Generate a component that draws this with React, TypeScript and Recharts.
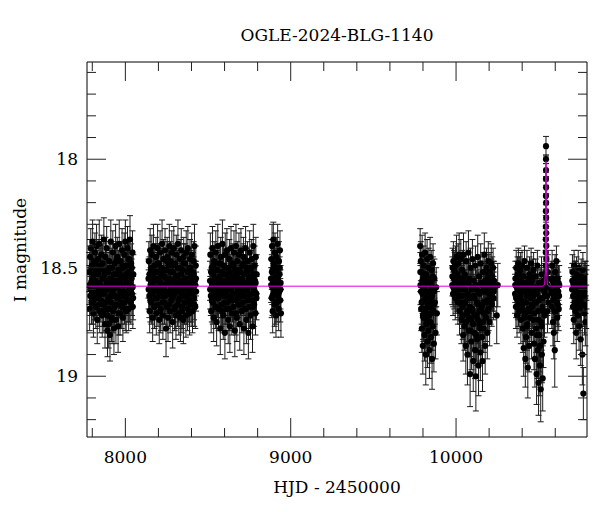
import { ComposedChart, Scatter, Line, XAxis, YAxis, ErrorBar } from 'recharts';

// [HJD - 2450000, I mag, error]
type Obs = [number, number, number];

const season2017: Obs[] = [
  [7782, 18.52, 0.09], [7784, 18.69, 0.1], [7786, 18.45, 0.08], [7789, 18.6, 0.09], [7791, 18.41, 0.09],
  [7793, 18.57, 0.08], [7795, 18.66, 0.1], [7798, 18.49, 0.09], [7800, 18.62, 0.09], [7802, 18.38, 0.1],
  [7805, 18.55, 0.08], [7807, 18.71, 0.11], [7809, 18.47, 0.09], [7812, 18.59, 0.09], [7814, 18.64, 0.1],
  [7816, 18.43, 0.09], [7819, 18.56, 0.08], [7821, 18.68, 0.1], [7823, 18.51, 0.09], [7826, 18.4, 0.1],
  [7828, 18.61, 0.09], [7830, 18.74, 0.11], [7833, 18.53, 0.08], [7835, 18.46, 0.09], [7838, 18.63, 0.09],
  [7840, 18.57, 0.08], [7842, 18.39, 0.11], [7845, 18.7, 0.1], [7847, 18.5, 0.09], [7850, 18.58, 0.08],
  [7852, 18.65, 0.1], [7855, 18.44, 0.09], [7857, 18.6, 0.09], [7860, 18.72, 0.1], [7862, 18.48, 0.09],
  [7865, 18.55, 0.08], [7867, 18.67, 0.1], [7870, 18.37, 0.1], [7872, 18.62, 0.09], [7875, 18.53, 0.09],
  [7877, 18.76, 0.11], [7880, 18.45, 0.09], [7882, 18.59, 0.08], [7885, 18.69, 0.1], [7887, 18.41, 0.1],
  [7890, 18.57, 0.09], [7892, 18.79, 0.12], [7895, 18.52, 0.09], [7897, 18.64, 0.09], [7899, 18.76, 0.11],
  [7902, 18.47, 0.09], [7904, 18.6, 0.08], [7907, 18.81, 0.12], [7909, 18.55, 0.09], [7912, 18.38, 0.1],
  [7914, 18.66, 0.1], [7917, 18.73, 0.11], [7919, 18.5, 0.09], [7921, 18.61, 0.09], [7924, 18.43, 0.1],
  [7926, 18.7, 0.1], [7929, 18.56, 0.08], [7931, 18.78, 0.12], [7934, 18.48, 0.09], [7936, 18.63, 0.09],
  [7938, 18.58, 0.08], [7941, 18.4, 0.1], [7943, 18.74, 0.11], [7946, 18.53, 0.09], [7948, 18.67, 0.1],
  [7951, 18.45, 0.09], [7953, 18.59, 0.09], [7956, 18.77, 0.12], [7958, 18.51, 0.09], [7960, 18.64, 0.09],
  [7963, 18.39, 0.11], [7965, 18.57, 0.08], [7968, 18.71, 0.1], [7970, 18.47, 0.09], [7973, 18.62, 0.09],
  [7975, 18.54, 0.08], [7978, 18.68, 0.1], [7980, 18.42, 0.1], [7983, 18.58, 0.09], [7985, 18.73, 0.11],
  [7988, 18.5, 0.09], [7990, 18.61, 0.09], [7993, 18.44, 0.1], [7995, 18.66, 0.1], [7998, 18.55, 0.08],
  [8000, 18.38, 0.1], [8003, 18.63, 0.09], [8005, 18.7, 0.1], [8008, 18.49, 0.09], [8010, 18.57, 0.08],
  [8013, 18.41, 0.1], [8015, 18.65, 0.1], [8018, 18.52, 0.09], [8020, 18.69, 0.1], [8023, 18.46, 0.09],
  [8025, 18.6, 0.09], [8028, 18.37, 0.11], [8030, 18.58, 0.08], [8033, 18.66, 0.1], [8035, 18.48, 0.09],
  [8038, 18.55, 0.09], [8040, 18.62, 0.1], [8043, 18.43, 0.1], [8045, 18.68, 0.1], [8048, 18.53, 0.09],
  [7783, 18.58, 0.09], [7788, 18.63, 0.09], [7794, 18.5, 0.08], [7799, 18.56, 0.08], [7804, 18.66, 0.1],
  [7810, 18.53, 0.08], [7815, 18.6, 0.09], [7820, 18.48, 0.09], [7825, 18.64, 0.09], [7831, 18.57, 0.08],
  [7836, 18.52, 0.08], [7841, 18.67, 0.1], [7846, 18.59, 0.09], [7851, 18.49, 0.09], [7856, 18.62, 0.09],
  [7861, 18.55, 0.08], [7866, 18.7, 0.1], [7871, 18.51, 0.08], [7876, 18.61, 0.09], [7881, 18.66, 0.1],
  [7886, 18.56, 0.08], [7891, 18.72, 0.1], [7896, 18.58, 0.09], [7901, 18.69, 0.1], [7906, 18.5, 0.08],
  [7911, 18.63, 0.09], [7916, 18.57, 0.08], [7920, 18.74, 0.11], [7925, 18.6, 0.09], [7930, 18.53, 0.08],
  [7935, 18.68, 0.1], [7940, 18.59, 0.09], [7945, 18.47, 0.09], [7950, 18.64, 0.09], [7955, 18.56, 0.08],
  [7959, 18.71, 0.1], [7964, 18.52, 0.08], [7969, 18.61, 0.09], [7974, 18.66, 0.1], [7979, 18.55, 0.08],
  [7984, 18.49, 0.09], [7989, 18.63, 0.09], [7994, 18.58, 0.08], [7999, 18.69, 0.1], [8004, 18.53, 0.08],
  [8009, 18.62, 0.09], [8014, 18.57, 0.08], [8019, 18.46, 0.09], [8024, 18.65, 0.1], [8029, 18.54, 0.08],
  [8034, 18.6, 0.09], [8039, 18.5, 0.08], [8044, 18.59, 0.09], [8047, 18.64, 0.1],
];

const season2018: Obs[] = [
  [8140, 18.55, 0.09], [8142, 18.47, 0.09], [8145, 18.63, 0.1], [8147, 18.7, 0.1], [8150, 18.42, 0.1],
  [8152, 18.58, 0.08], [8155, 18.51, 0.09], [8157, 18.66, 0.1], [8160, 18.44, 0.09], [8162, 18.61, 0.09],
  [8165, 18.73, 0.11], [8167, 18.53, 0.08], [8170, 18.4, 0.1], [8172, 18.59, 0.09], [8175, 18.68, 0.1],
  [8177, 18.49, 0.09], [8180, 18.56, 0.08], [8182, 18.64, 0.1], [8185, 18.45, 0.09], [8187, 18.71, 0.1],
  [8190, 18.52, 0.09], [8192, 18.6, 0.08], [8195, 18.41, 0.11], [8197, 18.67, 0.1], [8200, 18.55, 0.08],
  [8202, 18.48, 0.09], [8205, 18.74, 0.11], [8207, 18.62, 0.09], [8210, 18.43, 0.1], [8212, 18.57, 0.08],
  [8215, 18.69, 0.1], [8217, 18.5, 0.09], [8220, 18.63, 0.09], [8222, 18.39, 0.11], [8225, 18.58, 0.08],
  [8227, 18.72, 0.11], [8230, 18.46, 0.09], [8232, 18.6, 0.09], [8235, 18.54, 0.08], [8237, 18.66, 0.1],
  [8240, 18.42, 0.1], [8243, 18.61, 0.09], [8246, 18.78, 0.13], [8248, 18.51, 0.09], [8251, 18.68, 0.1],
  [8253, 18.45, 0.09], [8256, 18.57, 0.08], [8258, 18.73, 0.11], [8261, 18.49, 0.09], [8263, 18.62, 0.09],
  [8266, 18.4, 0.1], [8268, 18.55, 0.08], [8271, 18.7, 0.1], [8273, 18.47, 0.09], [8276, 18.59, 0.09],
  [8278, 18.65, 0.1], [8281, 18.43, 0.1], [8283, 18.56, 0.08], [8286, 18.75, 0.12], [8288, 18.52, 0.09],
  [8291, 18.63, 0.09], [8293, 18.41, 0.1], [8296, 18.6, 0.09], [8298, 18.69, 0.1], [8301, 18.48, 0.09],
  [8303, 18.57, 0.08], [8306, 18.72, 0.11], [8308, 18.44, 0.09], [8311, 18.61, 0.09], [8313, 18.54, 0.08],
  [8316, 18.67, 0.1], [8318, 18.39, 0.11], [8321, 18.58, 0.09], [8323, 18.71, 0.1], [8326, 18.5, 0.09],
  [8328, 18.64, 0.09], [8331, 18.46, 0.09], [8333, 18.73, 0.11], [8336, 18.56, 0.08], [8338, 18.42, 0.1],
  [8341, 18.62, 0.09], [8343, 18.68, 0.1], [8346, 18.51, 0.09], [8348, 18.59, 0.08], [8351, 18.74, 0.11],
  [8353, 18.45, 0.09], [8356, 18.6, 0.09], [8358, 18.66, 0.1], [8361, 18.48, 0.09], [8363, 18.55, 0.08],
  [8366, 18.72, 0.1], [8368, 18.43, 0.1], [8371, 18.63, 0.09], [8373, 18.57, 0.08], [8376, 18.69, 0.1],
  [8378, 18.41, 0.1], [8381, 18.58, 0.09], [8383, 18.65, 0.1], [8386, 18.5, 0.09], [8388, 18.71, 0.1],
  [8391, 18.46, 0.09], [8393, 18.6, 0.09], [8396, 18.54, 0.08], [8398, 18.67, 0.1], [8401, 18.44, 0.1],
  [8403, 18.62, 0.09], [8406, 18.7, 0.1], [8408, 18.52, 0.09], [8411, 18.58, 0.08], [8413, 18.47, 0.09],
  [8416, 18.64, 0.1], [8418, 18.4, 0.1], [8421, 18.56, 0.09], [8423, 18.68, 0.1], [8426, 18.49, 0.09],
  [8428, 18.61, 0.09],
  [8141, 18.6, 0.09], [8146, 18.53, 0.08], [8151, 18.65, 0.1], [8156, 18.57, 0.08], [8161, 18.5, 0.09],
  [8166, 18.62, 0.09], [8171, 18.55, 0.08], [8176, 18.68, 0.1], [8181, 18.52, 0.08], [8186, 18.59, 0.09],
  [8191, 18.64, 0.09], [8196, 18.48, 0.09], [8201, 18.61, 0.09], [8206, 18.56, 0.08], [8211, 18.7, 0.1],
  [8216, 18.53, 0.08], [8221, 18.6, 0.09], [8226, 18.66, 0.1], [8231, 18.51, 0.08], [8236, 18.58, 0.09],
  [8241, 18.63, 0.09], [8247, 18.55, 0.08], [8252, 18.47, 0.09], [8257, 18.62, 0.09], [8262, 18.57, 0.08],
  [8267, 18.67, 0.1], [8272, 18.52, 0.08], [8277, 18.6, 0.09], [8282, 18.64, 0.09], [8287, 18.49, 0.09],
  [8292, 18.56, 0.08], [8297, 18.62, 0.09], [8302, 18.68, 0.1], [8307, 18.54, 0.08], [8312, 18.59, 0.09],
  [8317, 18.5, 0.08], [8322, 18.65, 0.1], [8327, 18.57, 0.08], [8332, 18.61, 0.09], [8337, 18.53, 0.08],
  [8342, 18.7, 0.1], [8347, 18.58, 0.09], [8352, 18.48, 0.09], [8357, 18.63, 0.09], [8362, 18.55, 0.08],
  [8367, 18.6, 0.09], [8372, 18.66, 0.1], [8377, 18.52, 0.08], [8382, 18.58, 0.09], [8387, 18.62, 0.09],
  [8392, 18.5, 0.08], [8397, 18.65, 0.1], [8402, 18.56, 0.08], [8407, 18.61, 0.09], [8412, 18.53, 0.08],
  [8417, 18.67, 0.1], [8422, 18.58, 0.09], [8427, 18.55, 0.08],
];

const season2019: Obs[] = [
  [8512, 18.56, 0.09], [8514, 18.44, 0.1], [8517, 18.63, 0.09], [8519, 18.7, 0.1], [8522, 18.5, 0.09],
  [8524, 18.58, 0.08], [8527, 18.41, 0.1], [8529, 18.66, 0.1], [8532, 18.53, 0.08], [8534, 18.73, 0.11],
  [8537, 18.47, 0.09], [8539, 18.61, 0.09], [8542, 18.55, 0.08], [8544, 18.68, 0.1], [8547, 18.43, 0.1],
  [8549, 18.59, 0.09], [8552, 18.75, 0.11], [8554, 18.51, 0.09], [8557, 18.64, 0.09], [8559, 18.4, 0.1],
  [8562, 18.57, 0.08], [8564, 18.69, 0.1], [8567, 18.48, 0.09], [8569, 18.62, 0.09], [8572, 18.54, 0.08],
  [8574, 18.78, 0.12], [8577, 18.45, 0.09], [8579, 18.6, 0.09], [8582, 18.67, 0.1], [8584, 18.52, 0.08],
  [8587, 18.39, 0.11], [8589, 18.58, 0.08], [8592, 18.72, 0.11], [8594, 18.49, 0.09], [8597, 18.63, 0.09],
  [8599, 18.56, 0.08], [8602, 18.8, 0.12], [8604, 18.44, 0.1], [8607, 18.61, 0.09], [8609, 18.69, 0.1],
  [8612, 18.53, 0.08], [8614, 18.42, 0.1], [8617, 18.66, 0.1], [8619, 18.57, 0.08], [8622, 18.74, 0.11],
  [8624, 18.5, 0.09], [8627, 18.6, 0.09], [8629, 18.46, 0.09], [8632, 18.77, 0.12], [8634, 18.55, 0.08],
  [8637, 18.64, 0.09], [8639, 18.41, 0.1], [8642, 18.59, 0.09], [8644, 18.71, 0.1], [8647, 18.48, 0.09],
  [8649, 18.62, 0.09], [8652, 18.54, 0.08], [8654, 18.68, 0.1], [8657, 18.43, 0.1], [8659, 18.58, 0.08],
  [8662, 18.79, 0.12], [8664, 18.51, 0.09], [8667, 18.65, 0.09], [8669, 18.4, 0.1], [8672, 18.57, 0.08],
  [8674, 18.73, 0.11], [8677, 18.47, 0.09], [8679, 18.61, 0.09], [8682, 18.55, 0.08], [8684, 18.67, 0.1],
  [8687, 18.44, 0.1], [8689, 18.6, 0.09], [8692, 18.76, 0.12], [8694, 18.52, 0.08], [8697, 18.63, 0.09],
  [8699, 18.42, 0.1], [8702, 18.58, 0.08], [8704, 18.7, 0.1], [8707, 18.49, 0.09], [8709, 18.56, 0.08],
  [8712, 18.66, 0.1], [8714, 18.45, 0.09], [8717, 18.78, 0.12], [8719, 18.61, 0.09], [8722, 18.53, 0.08],
  [8724, 18.69, 0.1], [8727, 18.41, 0.1], [8729, 18.59, 0.09], [8732, 18.74, 0.11], [8734, 18.5, 0.09],
  [8737, 18.64, 0.09], [8739, 18.47, 0.09], [8742, 18.57, 0.08], [8744, 18.8, 0.12], [8747, 18.55, 0.09],
  [8749, 18.68, 0.1], [8752, 18.43, 0.1], [8754, 18.62, 0.09], [8757, 18.72, 0.11], [8759, 18.51, 0.09],
  [8762, 18.58, 0.08], [8764, 18.46, 0.09], [8767, 18.65, 0.1], [8769, 18.77, 0.12], [8772, 18.54, 0.08],
  [8774, 18.4, 0.1], [8777, 18.6, 0.09], [8779, 18.67, 0.1], [8782, 18.49, 0.09], [8784, 18.56, 0.08],
  [8787, 18.71, 0.1], [8789, 18.45, 0.09], [8792, 18.62, 0.09], [8794, 18.53, 0.09],
  [8513, 18.6, 0.09], [8518, 18.52, 0.08], [8523, 18.65, 0.1], [8528, 18.57, 0.08], [8533, 18.49, 0.09],
  [8538, 18.63, 0.09], [8543, 18.55, 0.08], [8548, 18.68, 0.1], [8553, 18.51, 0.08], [8558, 18.6, 0.09],
  [8563, 18.64, 0.09], [8568, 18.56, 0.08], [8573, 18.48, 0.09], [8578, 18.62, 0.09], [8583, 18.58, 0.08],
  [8588, 18.7, 0.1], [8593, 18.53, 0.08], [8598, 18.61, 0.09], [8603, 18.66, 0.1], [8608, 18.5, 0.08],
  [8613, 18.59, 0.09], [8618, 18.63, 0.09], [8623, 18.55, 0.08], [8628, 18.69, 0.1], [8633, 18.52, 0.08],
  [8638, 18.6, 0.09], [8643, 18.57, 0.08], [8648, 18.65, 0.1], [8653, 18.49, 0.09], [8658, 18.62, 0.09],
  [8663, 18.56, 0.08], [8668, 18.71, 0.1], [8673, 18.53, 0.08], [8678, 18.59, 0.09], [8683, 18.64, 0.09],
  [8688, 18.51, 0.08], [8693, 18.58, 0.09], [8698, 18.67, 0.1], [8703, 18.55, 0.08], [8708, 18.61, 0.09],
  [8713, 18.48, 0.09], [8718, 18.63, 0.09], [8723, 18.57, 0.08], [8728, 18.69, 0.1], [8733, 18.52, 0.08],
  [8738, 18.6, 0.09], [8743, 18.65, 0.1], [8748, 18.54, 0.08], [8753, 18.58, 0.09], [8758, 18.5, 0.08],
  [8763, 18.62, 0.09], [8768, 18.56, 0.08], [8773, 18.68, 0.1], [8778, 18.53, 0.08], [8783, 18.61, 0.09],
  [8788, 18.57, 0.08], [8793, 18.64, 0.1],
];

const season2020: Obs[] = [
  [8881, 18.55, 0.09], [8883, 18.46, 0.09], [8885, 18.64, 0.09], [8887, 18.4, 0.1], [8889, 18.59, 0.08],
  [8891, 18.7, 0.1], [8893, 18.51, 0.09], [8895, 18.37, 0.08], [8897, 18.62, 0.09], [8899, 18.57, 0.08],
  [8901, 18.48, 0.09], [8903, 18.67, 0.1], [8905, 18.43, 0.09], [8907, 18.6, 0.09], [8909, 18.54, 0.08],
  [8911, 18.72, 0.1], [8913, 18.45, 0.09], [8915, 18.58, 0.08], [8917, 18.66, 0.09], [8919, 18.5, 0.09],
  [8921, 18.39, 0.09], [8923, 18.63, 0.09], [8925, 18.56, 0.08], [8927, 18.69, 0.1], [8929, 18.47, 0.09],
  [8931, 18.61, 0.09], [8933, 18.53, 0.08], [8935, 18.42, 0.09], [8937, 18.65, 0.1], [8939, 18.57, 0.08],
  [8941, 18.71, 0.11],
  [8882, 18.58, 0.08], [8886, 18.52, 0.08], [8890, 18.63, 0.09], [8894, 18.56, 0.08], [8898, 18.49, 0.09],
  [8902, 18.61, 0.09], [8906, 18.55, 0.08], [8910, 18.66, 0.1], [8914, 18.51, 0.08], [8918, 18.59, 0.09],
  [8922, 18.54, 0.08], [8926, 18.62, 0.09], [8930, 18.57, 0.08], [8934, 18.5, 0.08], [8938, 18.6, 0.09],
];

const season2022: Obs[] = [
  [9783, 18.4, 0.08], [9785, 18.58, 0.09], [9787, 18.47, 0.09], [9789, 18.69, 0.1], [9791, 18.52, 0.09],
  [9793, 18.78, 0.11], [9795, 18.44, 0.09], [9797, 18.62, 0.09], [9799, 18.86, 0.13], [9801, 18.55, 0.09],
  [9803, 18.73, 0.11], [9805, 18.49, 0.09], [9807, 18.65, 0.1], [9809, 18.81, 0.12], [9811, 18.58, 0.09],
  [9813, 18.43, 0.09], [9815, 18.7, 0.1], [9817, 18.9, 0.14], [9819, 18.53, 0.09], [9821, 18.76, 0.11],
  [9823, 18.61, 0.09], [9825, 18.46, 0.09], [9827, 18.84, 0.12], [9829, 18.67, 0.1], [9831, 18.56, 0.09],
  [9833, 18.79, 0.12], [9835, 18.5, 0.09], [9837, 18.72, 0.1], [9839, 18.88, 0.13], [9841, 18.63, 0.09],
  [9843, 18.45, 0.09], [9845, 18.75, 0.11], [9847, 18.57, 0.09], [9849, 18.82, 0.12], [9851, 18.68, 0.1],
  [9853, 18.51, 0.09], [9855, 18.92, 0.14], [9857, 18.6, 0.09], [9859, 18.77, 0.11], [9861, 18.48, 0.09],
  [9863, 18.7, 0.1], [9866, 18.85, 0.13], [9869, 18.55, 0.09], [9872, 18.66, 0.1], [9876, 18.8, 0.12],
  [9880, 18.59, 0.09], [9884, 18.71, 0.1],
  [9784, 18.52, 0.09], [9788, 18.61, 0.09], [9792, 18.66, 0.1], [9796, 18.56, 0.09], [9800, 18.72, 0.11],
  [9804, 18.6, 0.09], [9808, 18.53, 0.09], [9812, 18.69, 0.1], [9816, 18.58, 0.09], [9820, 18.64, 0.1],
  [9824, 18.74, 0.11], [9828, 18.55, 0.09], [9832, 18.62, 0.09], [9836, 18.68, 0.1], [9840, 18.57, 0.09],
  [9844, 18.65, 0.1], [9848, 18.71, 0.1], [9852, 18.59, 0.09], [9856, 18.63, 0.09], [9860, 18.54, 0.09],
  [9864, 18.67, 0.1], [9868, 18.61, 0.09],
];

const season2023: Obs[] = [
  [9977, 18.58, 0.09], [9979, 18.5, 0.09], [9982, 18.62, 0.1], [9984, 18.47, 0.09], [9987, 18.55, 0.08],
  [9989, 18.6, 0.09], [9992, 18.52, 0.09], [9995, 18.64, 0.1], [9997, 18.49, 0.09], [10000, 18.57, 0.08],
  [10003, 18.45, 0.1], [10005, 18.61, 0.09], [10008, 18.53, 0.09], [10011, 18.66, 0.1], [10013, 18.48, 0.09],
  [10016, 18.59, 0.09], [10019, 18.44, 0.1], [10021, 18.7, 0.11], [10024, 18.55, 0.09], [10027, 18.63, 0.09],
  [10029, 18.46, 0.09], [10032, 18.74, 0.11], [10035, 18.58, 0.09], [10037, 18.51, 0.09], [10040, 18.68, 0.1],
  [10043, 18.81, 0.12], [10045, 18.44, 0.1], [10048, 18.6, 0.09], [10051, 18.77, 0.11], [10053, 18.53, 0.09],
  [10056, 18.66, 0.1], [10059, 18.86, 0.13], [10061, 18.47, 0.09], [10064, 18.71, 0.1], [10067, 18.57, 0.09],
  [10069, 18.9, 0.14], [10072, 18.62, 0.09], [10075, 18.43, 0.1], [10077, 18.79, 0.12], [10080, 18.55, 0.09],
  [10083, 18.68, 0.1], [10085, 18.99, 0.15], [10088, 18.5, 0.09], [10091, 18.74, 0.11], [10093, 18.84, 0.13],
  [10096, 18.59, 0.09], [10099, 18.46, 0.09], [10101, 18.7, 0.1], [10104, 18.93, 0.14], [10107, 18.56, 0.09],
  [10109, 18.8, 0.12], [10112, 18.64, 0.1], [10115, 18.88, 0.13], [10117, 18.49, 0.09], [10120, 19.0, 0.16],
  [10123, 18.72, 0.11], [10125, 18.6, 0.09], [10128, 18.83, 0.12], [10131, 18.45, 0.1], [10133, 18.67, 0.1],
  [10136, 18.95, 0.14], [10139, 18.54, 0.09], [10141, 18.76, 0.11], [10144, 18.62, 0.09], [10147, 18.89, 0.13],
  [10149, 18.48, 0.09], [10152, 18.7, 0.1], [10155, 18.58, 0.09], [10157, 18.82, 0.12], [10160, 18.93, 0.14],
  [10163, 18.52, 0.09], [10165, 18.66, 0.1], [10168, 18.78, 0.11], [10171, 18.44, 0.1], [10173, 18.61, 0.09],
  [10176, 18.86, 0.13], [10179, 18.57, 0.09], [10181, 18.73, 0.11], [10184, 18.5, 0.09], [10187, 18.65, 0.1],
  [10189, 18.8, 0.12], [10192, 18.55, 0.09], [10195, 18.47, 0.09], [10197, 18.69, 0.1], [10200, 18.6, 0.09],
  [10203, 18.75, 0.11], [10205, 18.52, 0.09], [10208, 18.63, 0.1], [10211, 18.57, 0.09], [10213, 18.48, 0.09],
  [10216, 18.67, 0.1], [10219, 18.54, 0.09], [10221, 18.61, 0.09], [10224, 18.5, 0.09], [10227, 18.64, 0.1],
  [10230, 18.56, 0.09], [10233, 18.59, 0.09], [10246, 18.72, 0.13], [10252, 18.58, 0.1],
  [9978, 18.54, 0.09], [9983, 18.59, 0.09], [9988, 18.51, 0.09], [9993, 18.57, 0.09], [9998, 18.62, 0.09],
  [10002, 18.53, 0.09], [10007, 18.58, 0.09], [10012, 18.63, 0.1], [10017, 18.55, 0.09], [10022, 18.6, 0.09],
  [10026, 18.66, 0.1], [10031, 18.57, 0.09], [10036, 18.63, 0.09], [10041, 18.72, 0.11], [10046, 18.55, 0.09],
  [10050, 18.66, 0.1], [10055, 18.6, 0.09], [10060, 18.75, 0.11], [10065, 18.63, 0.09], [10070, 18.7, 0.1],
  [10074, 18.57, 0.09], [10079, 18.73, 0.11], [10084, 18.64, 0.1], [10089, 18.79, 0.12], [10094, 18.6, 0.09],
  [10098, 18.69, 0.1], [10103, 18.76, 0.11], [10108, 18.63, 0.1], [10113, 18.72, 0.11], [10118, 18.58, 0.09],
  [10122, 18.81, 0.12], [10127, 18.66, 0.1], [10132, 18.74, 0.11], [10137, 18.61, 0.09], [10142, 18.7, 0.1],
  [10146, 18.78, 0.12], [10151, 18.57, 0.09], [10156, 18.68, 0.1], [10161, 18.75, 0.11], [10166, 18.6, 0.09],
  [10170, 18.71, 0.1], [10175, 18.56, 0.09], [10180, 18.66, 0.1], [10185, 18.59, 0.09], [10190, 18.7, 0.1],
  [10194, 18.53, 0.09], [10199, 18.62, 0.09], [10204, 18.57, 0.09], [10209, 18.66, 0.1], [10214, 18.55, 0.09],
  [10218, 18.6, 0.09], [10223, 18.56, 0.09], [10228, 18.61, 0.09],
];

const season2024: Obs[] = [
  [10357, 18.62, 0.09], [10359, 18.55, 0.08], [10362, 18.68, 0.1], [10364, 18.5, 0.08], [10367, 18.59, 0.09],
  [10369, 18.72, 0.1], [10372, 18.53, 0.08], [10374, 18.65, 0.09], [10377, 18.48, 0.07], [10379, 18.6, 0.09],
  [10382, 18.7, 0.1], [10384, 18.56, 0.08], [10387, 18.63, 0.09], [10389, 18.51, 0.08], [10392, 18.74, 0.11],
  [10394, 18.58, 0.08], [10397, 18.67, 0.1], [10399, 18.49, 0.07], [10402, 18.61, 0.09], [10404, 18.78, 0.11],
  [10407, 18.54, 0.08], [10409, 18.87, 0.13], [10412, 18.66, 0.1], [10414, 18.47, 0.07], [10417, 18.71, 0.1],
  [10419, 18.92, 0.13], [10422, 18.57, 0.08], [10424, 18.82, 0.12], [10427, 18.63, 0.09], [10429, 18.5, 0.08],
  [10432, 18.76, 0.11], [10434, 18.96, 0.14], [10437, 18.6, 0.09], [10439, 18.69, 0.1], [10442, 18.86, 0.12],
  [10444, 18.53, 0.08], [10447, 18.73, 0.11], [10449, 18.58, 0.08], [10452, 18.64, 0.09], [10454, 18.48, 0.07],
  [10457, 18.8, 0.12], [10459, 18.56, 0.08], [10462, 18.68, 0.1], [10464, 18.61, 0.09], [10467, 18.74, 0.11],
  [10469, 18.51, 0.08], [10472, 18.85, 0.12], [10474, 18.59, 0.09], [10477, 18.92, 0.13], [10479, 18.66, 0.1],
  [10482, 18.54, 0.08], [10484, 18.78, 0.11], [10487, 18.99, 0.14], [10489, 18.62, 0.09], [10492, 18.49, 0.07],
  [10494, 18.88, 0.13], [10497, 18.7, 0.1], [10499, 19.03, 0.15], [10502, 18.57, 0.08], [10504, 18.81, 0.12],
  [10507, 18.95, 0.14], [10509, 18.64, 0.09], [10512, 19.06, 0.15], [10514, 18.75, 0.11], [10517, 18.53, 0.08],
  [10519, 18.9, 0.13], [10522, 18.68, 0.1], [10524, 19.01, 0.15], [10527, 18.6, 0.09], [10529, 18.84, 0.12],
  [10532, 18.56, 0.08], [10535, 18.72, 0.1], [10538, 18.63, 0.09], [10551, 18.58, 0.09], [10553, 18.7, 0.1],
  [10556, 18.52, 0.08], [10558, 18.66, 0.1], [10576, 18.55, 0.08], [10579, 18.68, 0.1], [10581, 18.49, 0.07],
  [10584, 18.62, 0.09], [10586, 18.75, 0.11], [10589, 18.57, 0.08], [10591, 18.8, 0.12], [10594, 18.64, 0.09],
  [10597, 18.88, 0.17], [10599, 18.52, 0.08], [10602, 18.7, 0.1], [10604, 18.59, 0.09], [10607, 18.47, 0.07],
  [10610, 18.66, 0.1], [10612, 18.73, 0.11], [10615, 18.55, 0.08], [10618, 18.61, 0.09], [10621, 18.69, 0.1],
  [10624, 18.58, 0.09],
  [10358, 18.58, 0.08], [10363, 18.64, 0.09], [10368, 18.55, 0.08], [10373, 18.61, 0.09], [10378, 18.67, 0.1],
  [10383, 18.53, 0.08], [10388, 18.59, 0.09], [10393, 18.65, 0.09], [10398, 18.56, 0.08], [10403, 18.69, 0.1],
  [10408, 18.6, 0.09], [10413, 18.73, 0.11], [10418, 18.58, 0.08], [10423, 18.66, 0.1], [10428, 18.77, 0.11],
  [10433, 18.62, 0.09], [10438, 18.55, 0.08], [10443, 18.7, 0.1], [10448, 18.63, 0.09], [10453, 18.57, 0.08],
  [10458, 18.67, 0.1], [10463, 18.54, 0.08], [10468, 18.63, 0.09], [10473, 18.71, 0.1], [10478, 18.59, 0.09],
  [10483, 18.66, 0.1], [10488, 18.81, 0.12], [10493, 18.6, 0.09], [10498, 18.74, 0.11], [10503, 18.65, 0.1],
  [10508, 18.86, 0.12], [10513, 18.58, 0.08], [10518, 18.77, 0.11], [10523, 18.64, 0.09], [10528, 18.7, 0.1],
  [10533, 18.61, 0.09], [10537, 18.57, 0.08], [10552, 18.63, 0.09], [10557, 18.59, 0.09], [10577, 18.61, 0.09],
  [10582, 18.56, 0.08], [10587, 18.65, 0.1], [10592, 18.58, 0.08], [10596, 18.7, 0.1], [10601, 18.62, 0.09],
  [10606, 18.55, 0.08], [10611, 18.6, 0.09], [10616, 18.67, 0.1], [10620, 18.57, 0.08], [10623, 18.63, 0.09],
];

// the event itself
const peak2024: Obs[] = [
  [10544, 17.94, 0.045], [10544, 18.0, 0.02], [10544.3, 18.05, 0.03], [10543.8, 18.09, 0.03],
  [10544.5, 18.13, 0.03], [10543.6, 18.17, 0.04], [10544.8, 18.2, 0.04], [10543.4, 18.24, 0.04],
  [10545, 18.27, 0.04], [10543.2, 18.31, 0.05], [10545.3, 18.34, 0.05], [10543, 18.37, 0.05],
  [10545.6, 18.4, 0.06], [10542.7, 18.43, 0.06], [10546, 18.46, 0.06], [10542.4, 18.49, 0.07],
  [10546.4, 18.52, 0.07], [10542, 18.55, 0.08],
];

const season2025: Obs[] = [
  [10702, 18.6, 0.09], [10704, 18.52, 0.08], [10707, 18.68, 0.1], [10709, 18.57, 0.09], [10712, 18.74, 0.11],
  [10714, 18.49, 0.07], [10717, 18.63, 0.09], [10719, 18.55, 0.08], [10722, 18.7, 0.1], [10724, 18.6, 0.09],
  [10727, 18.8, 0.12], [10729, 18.53, 0.08], [10732, 18.66, 0.1], [10734, 18.58, 0.09], [10737, 18.72, 0.11],
  [10739, 18.5, 0.08], [10742, 18.64, 0.09], [10744, 18.77, 0.11], [10747, 18.56, 0.08], [10749, 18.69, 0.1],
  [10752, 18.61, 0.09], [10754, 18.83, 0.12], [10757, 18.54, 0.08], [10759, 18.67, 0.1], [10762, 18.59, 0.09],
  [10764, 18.9, 0.14], [10767, 18.51, 0.08], [10770, 19.08, 0.12], [10772, 18.63, 0.09], [10774, 18.57, 0.09],
  [10777, 18.71, 0.1], [10779, 18.62, 0.09], [10782, 18.75, 0.11], [10784, 18.55, 0.08], [10787, 18.68, 0.1],
  [10789, 18.6, 0.09],
  [10703, 18.56, 0.08], [10708, 18.63, 0.09], [10713, 18.58, 0.08], [10718, 18.66, 0.1], [10723, 18.55, 0.08],
  [10728, 18.62, 0.09], [10733, 18.59, 0.09], [10738, 18.68, 0.1], [10743, 18.57, 0.08], [10748, 18.61, 0.09],
  [10753, 18.65, 0.1], [10758, 18.56, 0.08], [10763, 18.63, 0.09], [10768, 18.58, 0.08], [10773, 18.67, 0.1],
  [10778, 18.55, 0.08], [10783, 18.62, 0.09], [10788, 18.57, 0.08],
];

// point-lens model, magenta
const modelDays = [7768, 10528, 10536, 10540, 10542, 10543.2, 10544, 10544.8, 10546, 10548, 10552, 10560, 10792];
const modelMags = [18.585, 18.585, 18.575, 18.52, 18.35, 18.12, 18.01, 18.12, 18.35, 18.52, 18.575, 18.585, 18.585];

const xMajorTicks = [8000, 9000, 10000];
const xMinorTicks = [7800, 8200, 8400, 8600, 8800, 9200, 9400, 9600, 9800, 10200, 10400, 10600];
const yMajorTicks = [18, 18.5, 19];
const yMinorTicks = [17.6, 17.7, 17.8, 17.9, 18.1, 18.2, 18.3, 18.4, 18.6, 18.7, 18.8, 18.9, 19.1, 19.2];

const points = [
  ...season2017, ...season2018, ...season2019, ...season2020,
  ...season2022, ...season2023, ...season2024, ...season2025, ...peak2024,
].map(([x, y, err]) => ({ x, y, err }));
const model = modelDays.map((x, i) => ({ x, y: modelMags[i] }));
const xTicks = [...xMajorTicks, ...xMinorTicks].sort((a, b) => a - b);
const yTicks = [...yMajorTicks, ...yMinorTicks].sort((a, b) => a - b);

const X_DOMAIN: [number, number] = [7768, 10792];
const Y_DOMAIN: [number, number] = [17.552, 19.28];
const FONT = 'DejaVu Serif';
const TICK = '#222';
const MAJOR = 19;
const MINOR = 9;
const frame = { stroke: '#000', strokeWidth: 1 };

// ticks point inwards; major ones are longer and only bottom/left carry labels
const BottomTick = ({ x, y, payload }: any) => {
  const major = xMajorTicks.includes(payload.value);
  return (
    <g>
      <line x1={x} y1={y} x2={x} y2={y - (major ? MAJOR : MINOR)} stroke={TICK} />
      {major && (
        <text x={x} y={y + 26} textAnchor="middle" fontFamily={FONT} fontSize={17} fill="#000">
          {payload.value}
        </text>
      )}
    </g>
  );
};
const TopTick = ({ x, y, payload }: any) => {
  const len = xMajorTicks.includes(payload.value) ? MAJOR : MINOR;
  return <line x1={x} y1={y} x2={x} y2={y + len} stroke={TICK} />;
};
const LeftTick = ({ x, y, payload }: any) => {
  const major = yMajorTicks.includes(payload.value);
  return (
    <g>
      <line x1={x} y1={y} x2={x + (major ? MAJOR : MINOR)} y2={y} stroke={TICK} />
      {major && (
        <text x={x - 9} y={y + 6} textAnchor="end" fontFamily={FONT} fontSize={17} fill="#000">
          {payload.value}
        </text>
      )}
    </g>
  );
};
const RightTick = ({ x, y, payload }: any) => {
  const len = yMajorTicks.includes(payload.value) ? MAJOR : MINOR;
  return <line x1={x} y1={y} x2={x - len} y2={y} stroke={TICK} />;
};

const Dot = (p: any) => <circle cx={p.cx} cy={p.cy} r={3.1} fill="#000" />;

export default function App() {
  return (
    <div style={{ position: 'absolute', left: 0, top: 0, width: 600, height: 512, background: '#fff' }}>
      <ComposedChart width={600} height={512} margin={{ top: 0, right: 0, bottom: 0, left: 0 }}>
        <XAxis xAxisId="b" type="number" dataKey="x" domain={X_DOMAIN} allowDataOverflow ticks={xTicks}
          interval={0} height={75} tickSize={0} tickMargin={0} tick={BottomTick} tickLine={false} axisLine={frame} />
        <XAxis xAxisId="t" orientation="top" type="number" dataKey="x" domain={X_DOMAIN} allowDataOverflow ticks={xTicks}
          interval={0} height={62} tickSize={0} tickMargin={0} tick={TopTick} tickLine={false} axisLine={frame} />
        <YAxis yAxisId="l" type="number" dataKey="y" domain={Y_DOMAIN} reversed allowDataOverflow ticks={yTicks}
          interval={0} width={87} tickSize={0} tickMargin={0} tick={LeftTick} tickLine={false} axisLine={frame} />
        <YAxis yAxisId="r" orientation="right" type="number" dataKey="y" domain={Y_DOMAIN} reversed allowDataOverflow
          ticks={yTicks} interval={0} width={13} tickSize={0} tickMargin={0} tick={RightTick} tickLine={false} axisLine={frame} />

        <Scatter xAxisId="b" yAxisId="l" data={points} shape={Dot} isAnimationActive={false}>
          <ErrorBar dataKey="err" direction="y" width={3} stroke="#1c1c1c" strokeWidth={1} />
        </Scatter>
        {/* model goes over the photometry */}
        <Line xAxisId="b" yAxisId="l" data={model} dataKey="y" type="linear" stroke="#e000e0" strokeWidth={1}
          dot={false} activeDot={false} isAnimationActive={false} zIndex={1000} />
        {/* keeps the mirrored top/right axes tied to a series */}
        <Line xAxisId="t" yAxisId="r" data={model} dataKey="y" type="linear" stroke="none"
          dot={false} activeDot={false} isAnimationActive={false} />
      </ComposedChart>

      <svg width={600} height={512} style={{ position: 'absolute', left: 0, top: 0, pointerEvents: 'none' }}
        fontFamily={FONT} fontSize={17} fill="#000">
        <text x={337} y={41} textAnchor="middle">OGLE-2024-BLG-1140</text>
        <text x={337} y={493} textAnchor="middle">HJD - 2450000</text>
        <text transform="translate(26,250) rotate(-90)" textAnchor="middle">I magnitude</text>
      </svg>
    </div>
  );
}
